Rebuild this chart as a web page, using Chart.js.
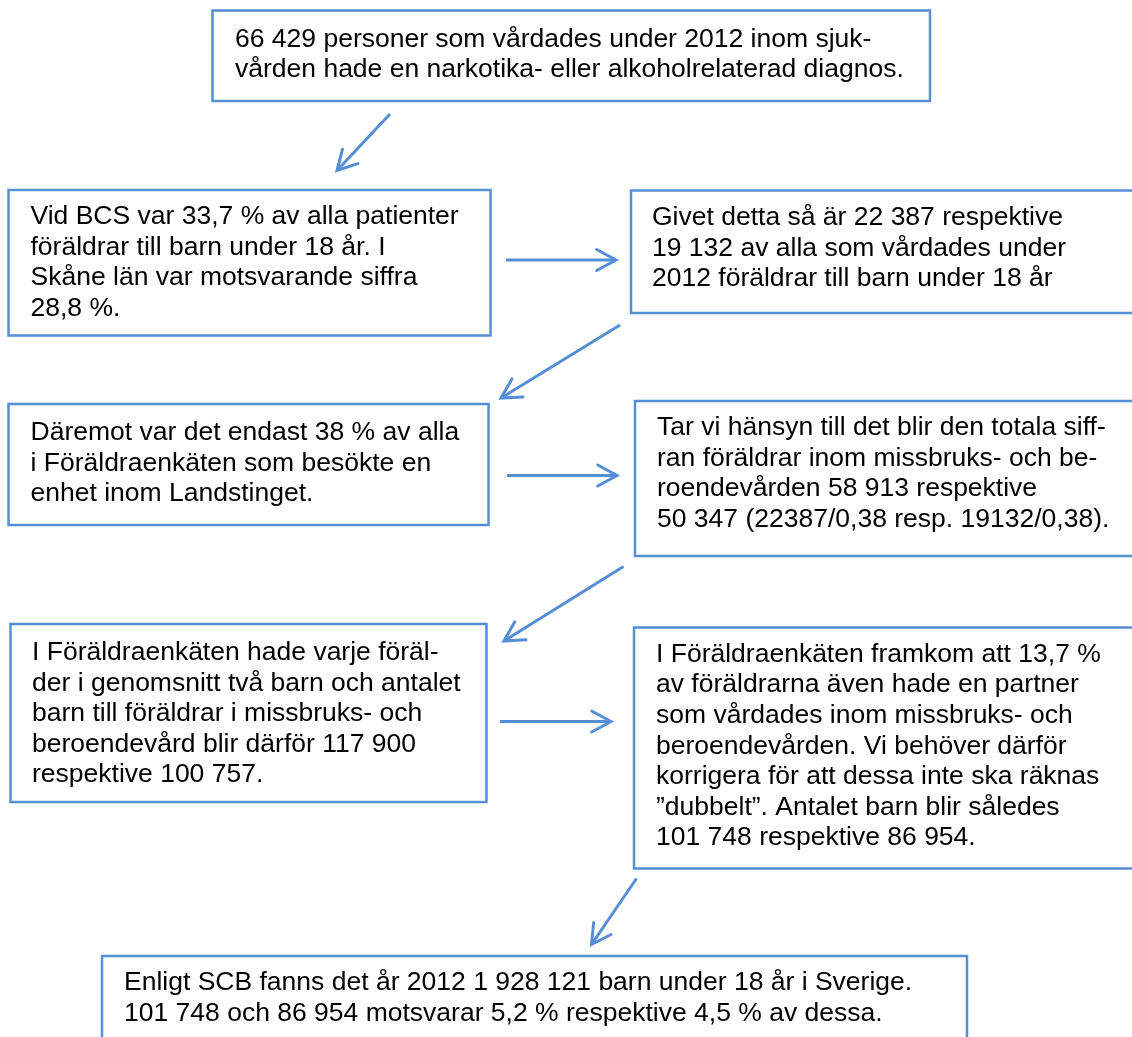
<!DOCTYPE html>
<html>
<head>
<meta charset="utf-8">
<script src="https://cdn.jsdelivr.net/npm/chart.js@4.4.0/dist/chart.umd.min.js"></script>
<style>
html,body{margin:0;padding:0;background:#ffffff;overflow:hidden}
#wrap{width:1132px;height:1037px;position:relative}
canvas{display:block}
</style>
</head>
<body>
<div id="wrap"><canvas id="c" width="1132" height="1037"></canvas></div>
<script>
// ---- Texts (content) ----
const step1Text = ["66 429 personer som vårdades under 2012 inom sjuk-", "vården hade en narkotika- eller alkoholrelaterad diagnos."];
const step2Text = ["Vid BCS var 33,7 % av alla patienter", "föräldrar till barn under 18 år. I", "Skåne län var motsvarande siffra", "28,8 %."];
const step3Text = ["Givet detta så är 22 387 respektive", "19 132 av alla som vårdades under", "2012 föräldrar till barn under 18 år"];
const step4Text = ["Däremot var det endast 38 % av alla", "i Föräldraenkäten som besökte en", "enhet inom Landstinget."];
const step5Text = ["Tar vi hänsyn till det blir den totala siff-", "ran föräldrar inom missbruks- och be-", "roendevården 58 913 respektive", "50 347 (22387/0,38 resp. 19132/0,38)."];
const step6Text = ["I Föräldraenkäten hade varje föräl-", "der i genomsnitt två barn och antalet", "barn till föräldrar i missbruks- och", "beroendevård blir därför 117 900", "respektive 100 757."];
const step7Text = ["I Föräldraenkäten framkom att 13,7 %", "av föräldrarna även hade en partner", "som vårdades inom missbruks- och", "beroendevården. Vi behöver därför", "korrigera för att dessa inte ska räknas", "\u201Ddubbelt\u201D. Antalet barn blir således", "101 748 respektive 86 954."];
const step8Text = ["Enligt SCB fanns det år 2012 1 928 121 barn under 18 år i Sverige.", "101 748 och 86 954 motsvarar 5,2 % respektive 4,5 % av dessa."];
const stepTexts = [step1Text, step2Text, step3Text, step4Text, step5Text, step6Text, step7Text, step8Text];

// ---- Layout (in scale units = page coordinates) ----
const boxLayout = [
  {x0: 212.5, y0: 10.5, x1: 930, y1: 101, tx: 235, ty: 46.7},
  {x0: 8.5,   y0: 190,  x1: 490.5, y1: 335.5, tx: 30.5, ty: 224},
  {x0: 631,   y0: 190.5, x1: 1140, y1: 313, tx: 652, ty: 225},
  {x0: 8.5,   y0: 404,  x1: 488.5, y1: 525, tx: 30.5, ty: 440},
  {x0: 635,   y0: 401,  x1: 1140, y1: 556, tx: 657, ty: 435},
  {x0: 10.5,  y0: 624,  x1: 486.5, y1: 802, tx: 32, ty: 660},
  {x0: 634,   y0: 627.5, x1: 1140, y1: 868.5, tx: 656, ty: 661.7},
  {x0: 102,   y0: 956,  x1: 967, y1: 1060, tx: 124, ty: 990}
];
const lineGap = 30.6;
// arrows: from (x,y) to tip (x,y)
const arrowLayout = [
  [390, 114, 337, 170.5],
  [506, 260, 616, 260],
  [620, 325, 501, 398],
  [507, 475.5, 617, 475.5],
  [623.5, 566.5, 504, 641],
  [500, 721.5, 611, 721.5],
  [636.5, 878.5, 591.5, 944.5]
];

const BLUE = '#558ED5';
const FONT = '26.5px "Liberation Sans", Arial, sans-serif';

const datasets = [];
boxLayout.forEach(b => {
  datasets.push({
    data: [{x:b.x0,y:b.y0},{x:b.x1,y:b.y0},{x:b.x1,y:b.y1},{x:b.x0,y:b.y1},{x:b.x0,y:b.y0}],
    borderColor: BLUE, borderWidth: 2.5, pointRadius: 0, fill: false, tension: 0,
    borderJoinStyle: 'miter', borderCapStyle: 'square'
  });
});
arrowLayout.forEach(a => {
  const [sx, sy, ex, ey] = a;
  const ang = Math.atan2(ey - sy, ex - sx);
  const L = 22, spread = 0.5;
  const b1 = {x: ex - L*Math.cos(ang - spread), y: ey - L*Math.sin(ang - spread)};
  const b2 = {x: ex - L*Math.cos(ang + spread), y: ey - L*Math.sin(ang + spread)};
  datasets.push({
    data: [{x:sx,y:sy},{x:ex,y:ey}],
    borderColor: BLUE, borderWidth: 3, pointRadius: 0, fill: false, tension: 0, borderCapStyle: 'butt'
  });
  datasets.push({
    data: [b1, {x:ex,y:ey}, b2],
    borderColor: BLUE, borderWidth: 3, pointRadius: 0, fill: false, tension: 0,
    borderCapStyle: 'round', borderJoinStyle: 'miter'
  });
});

const textPlugin = {
  id: 'boxText',
  afterDatasetsDraw(chart) {
    const ctx = chart.ctx;
    const xs = chart.scales.x, ys = chart.scales.y;
    ctx.save();
    ctx.font = FONT;
    ctx.fillStyle = '#000000';
    ctx.textAlign = 'left';
    ctx.textBaseline = 'alphabetic';
    boxLayout.forEach((b, i) => {
      stepTexts[i].forEach((line, j) => {
        ctx.fillText(line, xs.getPixelForValue(b.tx), ys.getPixelForValue(b.ty + j*lineGap));
      });
    });
    ctx.restore();
  }
};

new Chart(document.getElementById('c'), {
  type: 'line',
  data: { datasets },
  options: {
    responsive: false,
    animation: false,
    events: [],
    layout: { padding: 0 },
    parsing: true,
    plugins: { legend: {display:false}, tooltip: {enabled:false}, title:{display:false} },
    scales: {
      x: { type: 'linear', min: 0, max: 1132, display: false },
      y: { type: 'linear', min: 0, max: 1037, reverse: true, display: false }
    }
  },
  plugins: [textPlugin]
});
</script>
</body>
</html>
